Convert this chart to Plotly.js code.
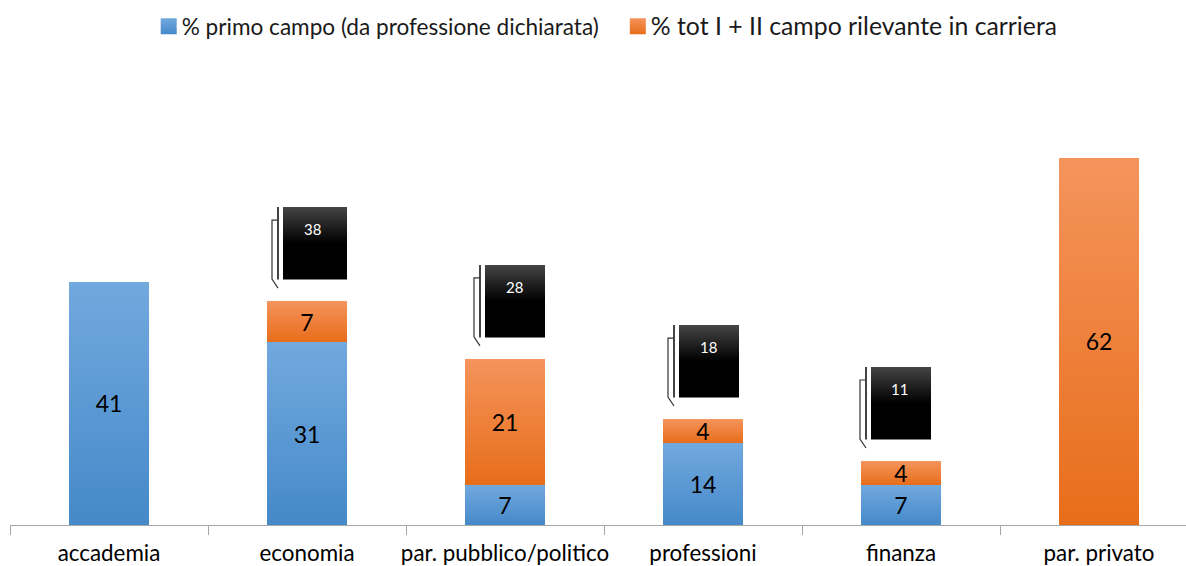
<!DOCTYPE html>
<html>
<head>
<meta charset="utf-8">
<script src="https://cdn.plot.ly/plotly-3.0.1.min.js"></script>
<style>html,body{margin:0;padding:0;background:#fff;overflow:hidden}</style>
</head>
<body>
<div id="chart" style="width:1186px;height:566px"></div>
<script>
var categories = ["accademia", "economia", "par. pubblico/politico", "professioni", "finanza", "par. privato"];
var primoCampo = [41.05, 30.9, 6.76, 13.85, 6.76, null];
var totCampo = [null, 6.93, 21.3, 4.05, 4.05, 62];
var primoLabels = ["41", "31", "7", "14", "7", ""];
var totLabels = ["", "7", "21", "4", "4", "62"];
var primoName = "% primo campo (da professione dichiarata)";
var totName = "% tot I + II campo rilevante in carriera";
var calloutCategory = [1, 2, 3, 4];
var calloutLabels = ["38", "28", "18", "11"];
var calloutLeft = [-24, -20, -24, -30];
var calloutRight = [40, 40, 36, 30];
var calloutTextShift = [5, 9, 5, -2];

var PX_X = 198, PX_Y = 5.92;
var shapes = [], annotations = [];
calloutCategory.forEach(function (c, i) {
  var top = (primoCampo[c] || 0) + (totCampo[c] || 0);
  var x0 = c + calloutLeft[i] / PX_X, x1 = c + calloutRight[i] / PX_X;
  var yLo = top + 21.5 / PX_Y, yHi = top + 94 / PX_Y;
  shapes.push({type: "rect", xref: "x", yref: "y", x0: x0, x1: x1, y0: yLo, y1: yHi,
    fillcolor: "#000000", line: {width: 0}, name: "box"});
  var lx = x0 - 5 / PX_X, bx = x0 - 11 / PX_X;
  shapes.push({type: "line", xref: "x", yref: "y", x0: lx, x1: lx, y0: yLo, y1: yHi,
    line: {color: "#444444", width: 2}});
  var pathStr = "M " + lx + " " + (top + 81 / PX_Y) + " L " + bx + " " + (top + 81 / PX_Y) +
    " L " + bx + " " + (top + 22 / PX_Y) + " L " + lx + " " + (top + 13 / PX_Y);
  shapes.push({type: "path", xref: "x", yref: "y", path: pathStr, line: {color: "#333333", width: 1.2}});
  annotations.push({xref: "x", yref: "y", x: c, y: top + 72 / PX_Y, xshift: calloutTextShift[i],
    text: calloutLabels[i], showarrow: false, font: {family: "Lato, sans-serif", size: 15, color: "#ffffff"}});
});

var traces = [
  {type: "bar", name: '<span style="font-size:22.6px">' + primoName + '</span>', x: categories, y: primoCampo, text: primoLabels,
    textposition: "inside", insidetextanchor: "middle", constraintext: "none", textangle: 0,
    textfont: {family: "Lato, sans-serif", size: 23, color: "#000000"}, marker: {color: "#5b9bd5"}, hoverinfo: "skip"},
  {type: "bar", name: '<span style="font-size:24.8px">' + totName + '</span>', x: categories, y: totCampo, text: totLabels,
    textposition: "inside", insidetextanchor: "middle", constraintext: "none", textangle: 0,
    textfont: {family: "Lato, sans-serif", size: 23, color: "#000000"}, marker: {color: "#ed7d31"}, hoverinfo: "skip"}
];

var layout = {
  width: 1186, height: 566,
  margin: {l: 10, r: 0, t: 111, b: 41, pad: 0},
  paper_bgcolor: "#ffffff", plot_bgcolor: "#ffffff",
  barmode: "stack", bargap: 1 - 80 / 198,
  font: {family: "Lato, sans-serif", color: "#000000"},
  showlegend: true,
  legend: {orientation: "h", x: 0.5006, xanchor: "center", y: 1.255, yanchor: "top", font: {family: "Lato, sans-serif", size: 22, color: "#1a1a1a"}, itemwidth: 30, traceorder: "normal", bgcolor: "rgba(0,0,0,0)"},
  xaxis: {type: "category", categoryorder: "array", categoryarray: categories, range: [-0.5, 5.4394], tickson: "boundaries",
    ticks: "outside", ticklen: 9, tickcolor: "#a6a6a6", tickwidth: 1, showline: true, linecolor: "#a6a6a6", linewidth: 1,
    showgrid: false, zeroline: false, tickangle: 0, tickfont: {family: "Lato, sans-serif", size: 22.4, color: "#000000"}, ticklabelstandoff: 8, fixedrange: true, automargin: false},
  yaxis: {range: [0, 414 / PX_Y], visible: false, showgrid: false, zeroline: false, fixedrange: true},
  shapes: shapes, annotations: annotations
};

function gradient(defs, id, top, bottom, midStop) {
  var ns = "http://www.w3.org/2000/svg";
  var g = document.createElementNS(ns, "linearGradient");
  g.setAttribute("id", id); g.setAttribute("x1", "0"); g.setAttribute("y1", "0"); g.setAttribute("x2", "0"); g.setAttribute("y2", "1");
  [[0, top], [midStop, bottom], [1, bottom]].forEach(function (s) {
    var st = document.createElementNS(ns, "stop");
    st.setAttribute("offset", s[0]); st.setAttribute("stop-color", s[1]); g.appendChild(st);
  });
  defs.appendChild(g);
}
function applyGradients() {
  var gd = document.getElementById("chart");
  var svg = gd.querySelector("svg.main-svg");
  var defs = svg.querySelector("defs");
  if (!defs.querySelector("#gBlue")) {
    gradient(defs, "gBlue", "#72a9de", "#4589c9", 1);
    gradient(defs, "gOrange", "#f4945c", "#e86d1a", 1);
    gradient(defs, "gBox", "#454545", "#000000", 0.5);
  }
  gd.querySelectorAll(".barlayer .trace").forEach(function (t, i) {
    t.querySelectorAll("path").forEach(function (p) { p.style.fill = "url(#" + (i === 0 ? "gBlue" : "gOrange") + ")"; });
  });
  gd.querySelectorAll(".legend .traces").forEach(function (t, i) {
    t.querySelectorAll(".legendpoints path").forEach(function (p) {
      p.style.fill = "url(#" + (i === 0 ? "gBlue" : "gOrange") + ")";
      p.setAttribute("d", "M8,8H-8V-8H8Z");
      p.setAttribute("transform", "translate(27,0)");
    });
    if (i === 1 && !t.getAttribute("data-moved")) {
      var m = /translate\(([-\d.]+)[ ,]*([-\d.]*)\)/.exec(t.getAttribute("transform") || "");
      if (m) { t.setAttribute("transform", "translate(" + (parseFloat(m[1]) + 7) + "," + (parseFloat(m[2]) || 0) + ")"); t.setAttribute("data-moved", "1"); }
    }
  });
  gd.querySelectorAll(".shapelayer path").forEach(function (p) {
    if (p.getAttribute("data-index") !== null && shapes[+p.getAttribute("data-index")].name === "box") p.style.fill = "url(#gBox)";
  });
}
Plotly.newPlot("chart", traces, layout, {displayModeBar: false, staticPlot: true}).then(function (gd) {
  applyGradients();
  gd.on("plotly_afterplot", applyGradients);
});
</script>
</body>
</html>
